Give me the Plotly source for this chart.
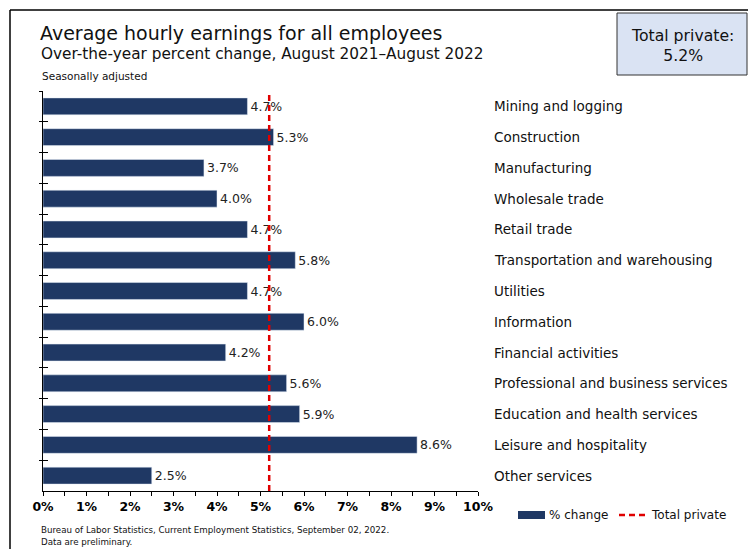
import plotly.graph_objects as go

# ---- data ----
industries = [
    "Mining and logging",
    "Construction",
    "Manufacturing",
    "Wholesale trade",
    "Retail trade",
    "Transportation and warehousing",
    "Utilities",
    "Information",
    "Financial activities",
    "Professional and business services",
    "Education and health services",
    "Leisure and hospitality",
    "Other services",
]
pct_change = [4.7, 5.3, 3.7, 4.0, 4.7, 5.8, 4.7, 6.0, 4.2, 5.6, 5.9, 8.6, 2.5]
total_private = 5.2
x_tickvals = [0, 1, 2, 3, 4, 5, 6, 7, 8, 9, 10]
x_ticktext = ["0%", "1%", "2%", "3%", "4%", "5%", "6%", "7%", "8%", "9%", "10%"]

title = "Average hourly earnings for all employees"
subtitle = "Over-the-year percent change, August 2021\u2013August 2022"
note = "Seasonally adjusted"
source = "Bureau of Labor Statistics, Current Employment Statistics, September 02, 2022."
source2 = "Data are preliminary."

# ---- layout geometry (page has an 8px body margin) ----
OFF = 8
W, H = 748, 541
ML, MT = 35, 83
PW, PH = 435, 400
MR, MB = W - ML - PW, H - MT - PH

def px(x):
    """page pixel x -> paper fraction"""
    return (x - OFF - ML) / PW

def py(y):
    """page pixel y -> paper fraction"""
    return (H - MB - (y - OFF)) / PH

FONT = "Verdana, DejaVu Sans, sans-serif"
NAVY = "#1f3864"
RED = "#e00000"

fig = go.Figure()
fig.add_trace(go.Bar(
    x=pct_change, y=industries, orientation="h",
    marker=dict(color=NAVY, line=dict(width=0)),
    text=[f"{v:.1f}%" for v in pct_change], textposition="outside",
    textfont=dict(family=FONT, size=12.5, color="#222"),
    cliponaxis=False, showlegend=False, hoverinfo="x+y",
))
# invisible twin used for the inside part of the crossing ticks
fig.add_trace(go.Bar(
    x=pct_change, y=industries, orientation="h", xaxis="x2", yaxis="y2",
    marker=dict(color="rgba(0,0,0,0)"), showlegend=False, hoverinfo="skip",
))

fig.add_shape(type="line", xref="x", yref="paper", x0=total_private, x1=total_private,
              y0=0, y1=1, line=dict(color=RED, width=2.5, dash="6px,4px"))

annotations = []
for name in industries:
    annotations.append(dict(x=px(492), xref="paper", y=name, yref="y", text=name,
                            showarrow=False, xanchor="left", yanchor="middle",
                            font=dict(family=FONT, size=13.5, color="#111")))
annotations += [
    dict(x=px(38), y=py(32.5), xref="paper", yref="paper", text=title, showarrow=False,
         xanchor="left", yanchor="middle", font=dict(family=FONT, size=19, color="#111")),
    dict(x=px(39), y=py(54), xref="paper", yref="paper", text=subtitle, showarrow=False,
         xanchor="left", yanchor="middle", font=dict(family=FONT, size=15.3, color="#111")),
    dict(x=px(40), y=py(76), xref="paper", yref="paper", text=note, showarrow=False,
         xanchor="left", yanchor="middle", font=dict(family=FONT, size=10.5, color="#111")),
    dict(x=px(39), y=py(530), xref="paper", yref="paper", text=source, showarrow=False,
         xanchor="left", yanchor="middle", font=dict(family=FONT, size=8.7, color="#111")),
    dict(x=px(39), y=py(542), xref="paper", yref="paper", text=source2, showarrow=False,
         xanchor="left", yanchor="middle", font=dict(family=FONT, size=8.7, color="#111")),
    dict(x=px(682), y=py(45), xref="paper", yref="paper",
         text=f"Total private:<br>{total_private:.1f}%", showarrow=False,
         xanchor="center", yanchor="middle", align="center",
         font=dict(family=FONT, size=15.7, color="#111")),
    dict(x=px(547), y=py(515), xref="paper", yref="paper", text="% change", showarrow=False,
         xanchor="left", yanchor="middle", font=dict(family=FONT, size=12, color="#111")),
    dict(x=px(649), y=py(515), xref="paper", yref="paper", text="Total private", showarrow=False,
         xanchor="left", yanchor="middle", font=dict(family=FONT, size=12, color="#111")),
]

shapes = [
    # total private box
    dict(type="rect", xref="paper", yref="paper", x0=px(617), x1=px(747), y0=py(13), y1=py(75),
         fillcolor="#dae3f3", line=dict(color="#333", width=1), layer="below"),
    # legend swatches
    dict(type="rect", xref="paper", yref="paper", x0=px(518), x1=px(545), y0=py(511), y1=py(519),
         fillcolor=NAVY, line=dict(width=0)),
    dict(type="line", xref="paper", yref="paper", x0=px(619), x1=px(646), y0=py(515), y1=py(515),
         line=dict(color=RED, width=2.5, dash="6px,4px")),
    # frame lines
    dict(type="line", xref="paper", yref="paper", x0=px(10), x1=px(770), y0=py(10), y1=py(10),
         line=dict(color="#000", width=1.5)),
    dict(type="line", xref="paper", yref="paper", x0=px(10), x1=px(10), y0=py(10), y1=py(570),
         line=dict(color="#000", width=1.5)),
]
for s in shapes:
    fig.add_shape(**s)

fig.update_layout(
    width=W, height=H, margin=dict(l=ML, r=MR, t=MT, b=MB),
    paper_bgcolor="white", plot_bgcolor="white",
    bargap=0.45, showlegend=False,
    font=dict(family=FONT, color="#111"),
    annotations=annotations,
    xaxis=dict(range=[0, 10], tickvals=x_tickvals, ticktext=x_ticktext,
               showgrid=False, zeroline=False, showline=True, linecolor="#000", linewidth=1,
               ticks="outside", ticklen=4, tickcolor="#000",
               minor=dict(dtick=0.5, ticks="outside", ticklen=4, tickcolor="#000"),
               tickfont=dict(family=FONT, size=12.5, color="#000", weight="bold"), fixedrange=True),
    yaxis=dict(type="category", categoryorder="array", categoryarray=industries,
               autorange="reversed", showticklabels=False, showgrid=False, zeroline=False,
               showline=True, linecolor="#000", linewidth=1,
               ticks="outside", ticklen=3, tickcolor="#000", tickson="boundaries"),
    xaxis2=dict(overlaying="x", range=[0, 10], visible=False),
    yaxis2=dict(overlaying="y", anchor="x", type="category", categoryorder="array",
                categoryarray=industries,
                autorange="reversed", showticklabels=False, showgrid=False, zeroline=False,
                showline=False, ticks="inside", ticklen=5, tickcolor="#000", tickson="boundaries"),
)

fig.write_html("out.html")
